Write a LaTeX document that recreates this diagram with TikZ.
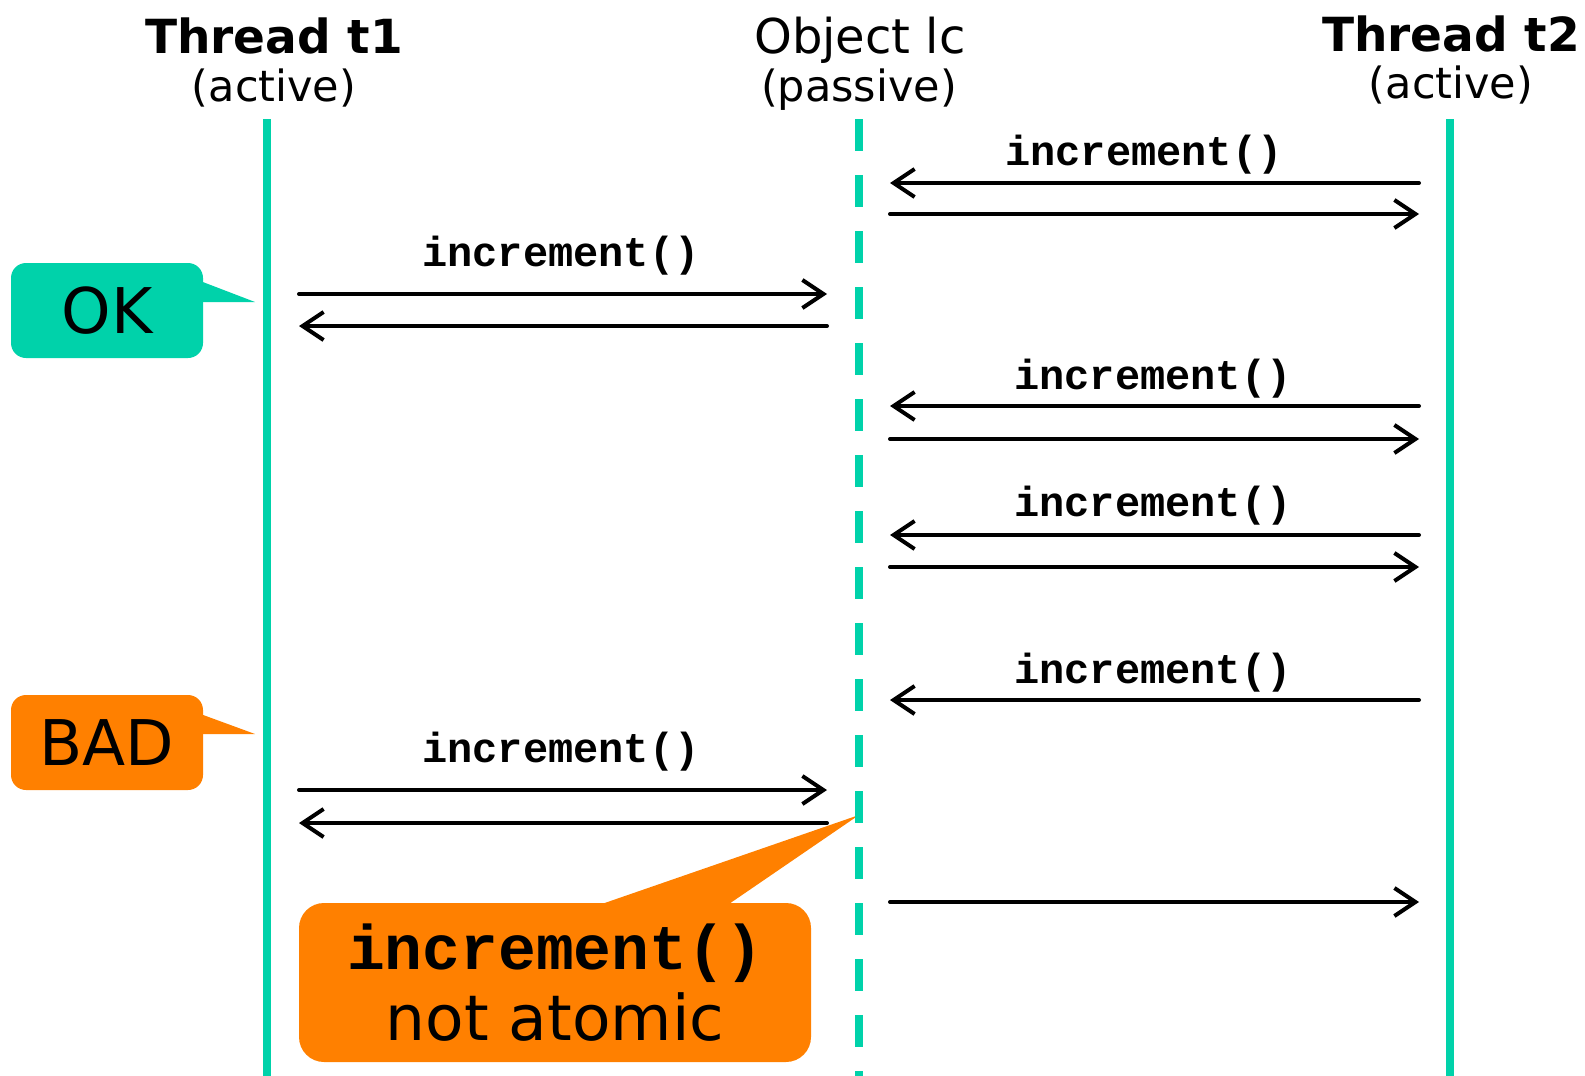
\documentclass[tikz,border=0pt]{standalone}
\usepackage{fontspec}
\setmainfont{DejaVu Sans}
\setmonofont{Liberation Mono}
\usetikzlibrary{arrows.meta}

\definecolor{lifeteal}{RGB}{0,210,170}
\definecolor{badorange}{RGB}{255,128,0}

\tikzset{
	title/.style={anchor=base,font=\fontsize{47}{47}\selectfont\bfseries},
	objname/.style={anchor=base,font=\fontsize{48}{48}\selectfont},
	role/.style={anchor=base,font=\fontsize{43}{43}\selectfont},
	call/.style={anchor=base,font=\fontsize{42}{42}\selectfont\ttfamily\bfseries},
	msg/.style={->,line width=4pt,line cap=round},
	lifeline/.style={lifeteal,line width=7.5pt},
	passline/.style={lifeline,dash pattern=on 32pt off 24pt},
	note/.style={rounded corners=15pt,inner sep=0pt,font=\fontsize{63}{63}\selectfont}
}

\begin{document}
\begin{tikzpicture}[x=1pt,y=-1pt]
	\tikzset{>={Straight Barb[length=21pt,width=28pt]}}
	\useasboundingbox (0,0) rectangle (1585,1076);

	% heads of the three lifelines
	\node[title] (t1name) at (274,53) {Thread t1};
	\node[role] (t1role) at (274,101) {(active)};
	\node[objname] (lcname) at (860,53) {Object lc};
	\node[role] (lcrole) at (859,101) {(passive)};
	\node[title] (t2name) at (1451,51) {Thread t2};
	\node[role] (t2role) at (1451,98) {(active)};

	% callouts
	\node[note,fill=lifeteal,minimum width=192pt,minimum height=95pt] (okbox) at (107,310.5) {OK};
	\coordinate (oktip) at (255,302);
	\fill[lifeteal] (195,279) -- (oktip) -- (195,302) -- cycle;

	\node[note,fill=badorange,minimum width=192pt,minimum height=95pt] (badbox) at (107,742.5) {BAD};
	\coordinate (badtip) at (255,734);
	\fill[badorange] (195,712) -- (badtip) -- (195,734) -- cycle;

	\node[note,fill=badorange,rounded corners=25pt,minimum width=512pt,minimum height=159pt,align=center] (atombox) at (555,982.5)
		{\raisebox{-2pt}{\ttfamily\bfseries increment()}\\[8pt]\raisebox{-2pt}{not atomic}};
	\coordinate (atomtip) at (859,815);
	\fill[badorange] (596,906) -- (atomtip) -- (726,906) -- cycle;

	% lifelines
	\coordinate (t1top) at (267,119);
	\coordinate (t1bot) at (267,1076);
	\coordinate (lctop) at (859,119);
	\coordinate (lcbot) at (859,1076);
	\coordinate (t2top) at (1450,119);
	\coordinate (t2bot) at (1450,1076);
	\draw[lifeline] (t1top) -- (t1bot);
	\draw[passline] (lctop) -- (lcbot);
	\draw[lifeline] (t2top) -- (t2bot);

	% t2 calls increment() on lc and gets the answer back
	\foreach \n/\yc/\yr/\xl/\yl in {1/183/214/1144/165, 2/406/439/1153/389, 3/535/567/1153/516}{
		\coordinate (tcall\n) at (1419,\yc);
		\coordinate (lcall\n) at (890,\yc);
		\coordinate (tret\n) at (1419,\yr);
		\coordinate (lret\n) at (890,\yr);
		\draw[msg] (tcall\n) -- (lcall\n);
		\draw[msg] (lret\n) -- (tret\n);
		\node[call] (tlabel\n) at (\xl,\yl) {increment()};
	}

	% t1 calls increment() on lc
	\foreach \n/\yc/\yr/\yl in {1/294/326/266, 2/790/823/762}{
		\coordinate (ocall\n) at (299,\yc);
		\coordinate (mcall\n) at (827,\yc);
		\coordinate (oret\n) at (299,\yr);
		\coordinate (mret\n) at (827,\yr);
		\draw[msg] (ocall\n) -- (mcall\n);
		\draw[msg] (mret\n) -- (oret\n);
		\node[call] (olabel\n) at (561,\yl) {increment()};
	}

	% the interleaved call of t2
	\coordinate (tcall4) at (1419,700);
	\coordinate (lcall4) at (890,700);
	\draw[msg] (tcall4) -- (lcall4);
	\node[call] (tlabel4) at (1153,683) {increment()};
	\coordinate (lret4) at (890,902);
	\coordinate (tret4) at (1419,902);
	\draw[msg] (lret4) -- (tret4);

\end{tikzpicture}
\end{document}
